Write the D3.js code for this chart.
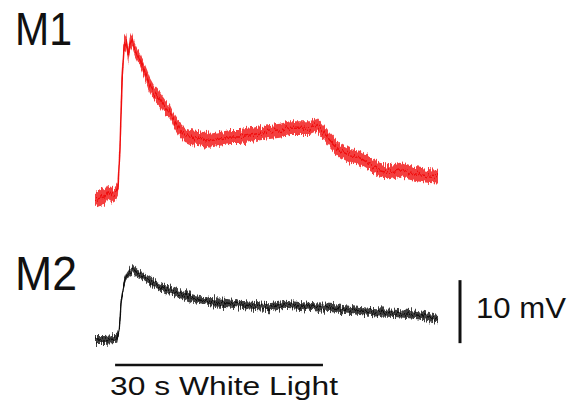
<!DOCTYPE html>
<html>
<head>
<meta charset="utf-8">
<script src="https://cdn.jsdelivr.net/npm/d3@7"></script>
<style>
  body { margin: 0; background: #fff; }
  text { font-family: "Liberation Sans", Arial, sans-serif; fill: #111; }
</style>
</head>
<body>
<div id="chart"></div>
<script>
// time (s) from start of recording
var m1Time = [0, 0.7, 1.4, 1.9, 2.5, 3.0, 3.3, 3.6, 3.9, 4.2, 4.5, 4.8, 5.0, 5.3, 5.8, 6.5, 7.2, 7.9, 8.7, 9.4,
  10.1, 10.8, 11.5, 12.3, 13.0, 13.7, 15.1, 16.6, 18.0, 19.5, 20.9, 22.4, 23.8, 25.2, 26.7, 28.1, 29.6, 31.0,
  32.0, 32.7, 33.9, 35.3, 36.8, 38.2, 39.7, 41.1, 42.5, 44.0, 45.4, 46.9, 48.3, 49.5];
// depolarisation (mV) relative to rest
var m1Volt = [0, 0.3, 0.5, 1.3, 0.8, 1.1, 1.6, 7.9, 19.0, 24.6, 25.1, 23.0, 24.6, 25.4, 23.8, 22.2, 20.3, 18.3, 16.7, 15.9,
  14.8, 14.0, 12.4, 11.1, 10.3, 10.0, 9.8, 9.4, 9.7, 10.0, 10.0, 10.3, 10.6, 10.8, 11.0, 11.4, 11.4, 11.4,
  11.9, 11.1, 9.5, 7.9, 7.0, 6.7, 5.7, 4.8, 4.4, 4.8, 4.3, 4.0, 3.8, 3.7];

var m2Time = [0, 1.4, 3.2, 3.5, 3.8, 4.2, 4.6, 5.0, 5.5, 6.1, 6.8, 7.9, 8.9, 10.1, 11.5, 12.7, 14.4, 16.6, 18.8,
  20.9, 23.1, 25.2, 27.4, 29.6, 31.7, 33.9, 35.8, 38.2, 40.7, 43.3, 45.4, 47.6, 49.5];
var m2Volt = [0, 0, 0.2, 1.6, 6.3, 9.2, 10.2, 10.8, 11.1, 10.5, 10.2, 9.4, 8.7, 8.1, 7.6, 7.1, 6.5, 6.0, 5.9,
  5.6, 5.4, 5.2, 5.6, 5.4, 5.2, 5.1, 4.9, 4.6, 4.4, 4.3, 4.1, 3.8, 3.3];

// peak-to-peak noise (mV)
var m1Noise = 2.2;
var m2Noise = 1.3;

var lightStart = 2.9;   // s
var lightDur = 30;      // s
var scaleMv = 10;       // mV

var width = 575, height = 410;

var svg = d3.select("#chart").append("svg")
    .attr("width", width)
    .attr("height", height);

// rough, vertical-only jitter so the band reads like a noisy recording
var filter = svg.append("defs").append("filter")
    .attr("id", "jitter")
    .attr("x", "-5%").attr("y", "-20%")
    .attr("width", "110%").attr("height", "140%");
filter.append("feTurbulence")
    .attr("type", "fractalNoise")
    .attr("baseFrequency", "0.9 0.05")
    .attr("numOctaves", 2)
    .attr("seed", 3)
    .attr("result", "noise");
filter.append("feColorMatrix")
    .attr("in", "noise")
    .attr("type", "matrix")
    .attr("values", "0 0 0 0 0.5  0 1 0 0 0  0 0 1 0 0  0 0 0 0 1")
    .attr("result", "ynoise");
filter.append("feDisplacementMap")
    .attr("in", "SourceGraphic")
    .attr("in2", "ynoise")
    .attr("scale", 11)
    .attr("xChannelSelector", "R")
    .attr("yChannelSelector", "G");

var x = d3.scaleLinear().domain([0, 49.5]).range([95, 438]);
var y1 = d3.scaleLinear().domain([0, 10]).range([200, 137]);
var y2 = d3.scaleLinear().domain([0, 10]).range([340, 277]);

function drawTrace(time, volt, noise, y, color) {
    var pts = time.map(function(t, i) { return { t: t, v: volt[i] }; });

    var band = d3.area()
        .x(function(d) { return x(d.t); })
        .y0(function(d) { return y(d.v - noise / 2); })
        .y1(function(d) { return y(d.v + noise / 2); });

    var g = svg.append("g").attr("filter", "url(#jitter)");

    g.append("path")
        .datum(pts)
        .attr("d", band)
        .attr("fill", color)
        .attr("fill-opacity", 0.8);

    var line = d3.line()
        .x(function(d) { return x(d.t); })
        .y(function(d) { return y(d.v); });

    g.append("path")
        .datum(pts)
        .attr("d", line)
        .attr("fill", "none")
        .attr("stroke", color)
        .attr("stroke-width", 1.5);
}

drawTrace(m1Time, m1Volt, m1Noise, y1, "#f01010");
drawTrace(m2Time, m2Volt, m2Noise, y2, "#111");

// labels
svg.append("text").attr("x", 15).attr("y", 45)
    .attr("font-size", 46).attr("textLength", 57).attr("lengthAdjust", "spacingAndGlyphs")
    .text("M1");
svg.append("text").attr("x", 15).attr("y", 290)
    .attr("font-size", 48).attr("textLength", 62).attr("lengthAdjust", "spacingAndGlyphs")
    .text("M2");

// 10 mV scale bar
svg.append("line")
    .attr("x1", 460).attr("x2", 460)
    .attr("y1", y2(-0.5)).attr("y2", y2(-0.5 + scaleMv))
    .attr("stroke", "#111").attr("stroke-width", 3);
svg.append("text").attr("x", 476).attr("y", 318)
    .attr("font-size", 29).attr("textLength", 90).attr("lengthAdjust", "spacingAndGlyphs")
    .text("10 mV");

// light stimulus bar
svg.append("line")
    .attr("x1", x(lightStart)).attr("x2", x(lightStart + lightDur))
    .attr("y1", 365).attr("y2", 365)
    .attr("stroke", "#111").attr("stroke-width", 2.5);
svg.append("text").attr("x", 110).attr("y", 395)
    .attr("font-size", 26).attr("textLength", 228).attr("lengthAdjust", "spacingAndGlyphs")
    .text("30 s White Light");
</script>
</body>
</html>
